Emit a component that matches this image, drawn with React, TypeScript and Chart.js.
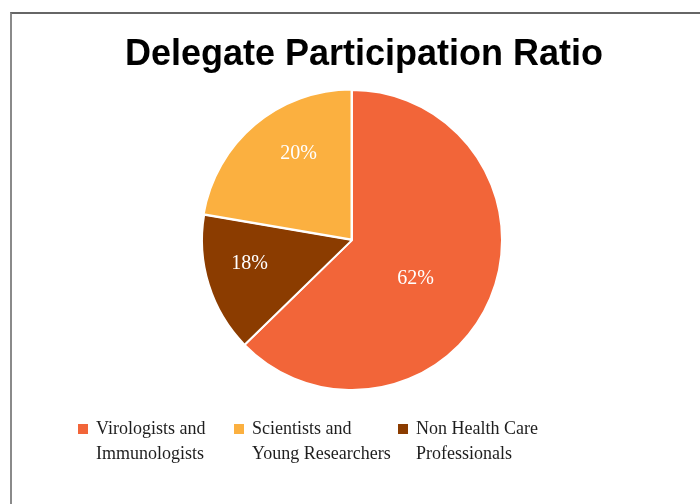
import React, { useEffect, useRef } from "react";
import { Chart, registerables } from "chart.js";

Chart.register(...registerables);

const categories: string[][] = [
  ["Virologists and", "Immunologists"],
  ["Non Health Care", "Professionals"],
  ["Scientists and", "Young Researchers"],
];
// slice sizes as drawn in the picture
const shares: number[] = [62.7, 15, 22.3];
// percentage texts as printed on the slices
const pctLabels: string[] = ["62%", "18%", "20%"];
const sliceColors: string[] = ["#F26539", "#8B3C00", "#FBB040"];
const legendOrder: number[] = [0, 2, 1];
const titleText = "Delegate Participation Ratio";

// label placement (radius fraction, angle shift in degrees)
const labelRadius = [0.495, 0.7, 0.678];
const labelAngleShift = [8.3, 4.4, 8.4];
// legend column offsets (px)
const legendCols = [0, 156, 320];

const sliceLabelPlugin = {
  id: "sliceLabels",
  afterDatasetsDraw(chart: any) {
    const meta = chart.getDatasetMeta(0);
    const ctx = chart.ctx;
    ctx.save();
    ctx.fillStyle = "#ffffff";
    ctx.font = '20px "Liberation Serif"';
    ctx.textAlign = "center";
    ctx.textBaseline = "middle";
    meta.data.forEach((arc: any, i: number) => {
      const p = arc.getProps(["x", "y", "startAngle", "endAngle", "outerRadius"], true);
      const mid = (p.startAngle + p.endAngle) / 2 + (labelAngleShift[i] * Math.PI) / 180;
      const r = p.outerRadius * labelRadius[i];
      ctx.fillText(pctLabels[i], p.x + Math.cos(mid) * r, p.y + Math.sin(mid) * r);
    });
    ctx.restore();
  },
};

// legend drawn below the chart area, two-line labels
const legendPlugin = {
  id: "columnLegend",
  afterDraw(chart: any) {
    const ctx = chart.ctx;
    const area = chart.chartArea;
    const labels = chart.data.labels as string[][];
    const colors = chart.data.datasets[0].backgroundColor as string[];
    const x0 = area.left + 24;
    const y0 = area.bottom + 24;
    const fontSize = 18;
    const lineH = 25;
    ctx.save();
    ctx.font = `${fontSize}px "Liberation Serif"`;
    ctx.textAlign = "left";
    ctx.textBaseline = "middle";
    legendOrder.forEach((idx, col) => {
      const x = x0 + legendCols[col];
      ctx.fillStyle = colors[idx];
      ctx.fillRect(x, y0 + 4, 10, 10);
      ctx.fillStyle = "#1e1e1e";
      labels[idx].forEach((line, k) => {
        ctx.fillText(line, x + 18, y0 + fontSize / 2 + k * lineH);
      });
    });
    ctx.restore();
  },
};

const titleNudgePlugin = {
  id: "titleNudge",
  afterLayout(chart: any) {
    const t = chart.titleBlock;
    if (t) {
      t.left += 12;
      t.right += 12;
    }
  },
};

export default function App() {
  const ref = useRef<HTMLCanvasElement | null>(null);

  useEffect(() => {
    if (!ref.current) return;
    const chart = new Chart(ref.current, {
      type: "pie",
      data: {
        labels: categories as any,
        datasets: [
          {
            data: shares,
            backgroundColor: sliceColors,
            borderColor: "#ffffff",
            borderWidth: 2,
            offset: [0, 0, 3],
            radius: 150,
          } as any,
        ],
      },
      options: {
        responsive: false,
        animation: false,
        events: [],
        layout: { padding: { left: 54, right: 50, top: 0, bottom: 108 } },
        plugins: {
          title: {
            display: true,
            text: titleText,
            color: "#000000",
            font: { family: '"Liberation Sans"', size: 36, weight: "bold", lineHeight: 1.2 },
            padding: { top: 33, bottom: 8 },
          },
          legend: { display: false },
          tooltip: { enabled: false },
        },
      } as any,
      plugins: [sliceLabelPlugin, legendPlugin, titleNudgePlugin],
    });
    return () => chart.destroy();
  }, []);

  return (
    <div style={{ position: "fixed", left: 0, top: 0, width: 700, height: 504, background: "#ffffff", overflow: "hidden" }}>
      <canvas ref={ref} width={700} height={504} style={{ position: "absolute", left: 0, top: 0, display: "block" }} />
      <div
        style={{
          position: "absolute",
          left: 10,
          top: 12,
          width: 720,
          height: 520,
          borderLeft: "2px solid #8a8a8a",
          borderTop: "2px solid #666666",
          pointerEvents: "none",
        }}
      />
    </div>
  );
}
